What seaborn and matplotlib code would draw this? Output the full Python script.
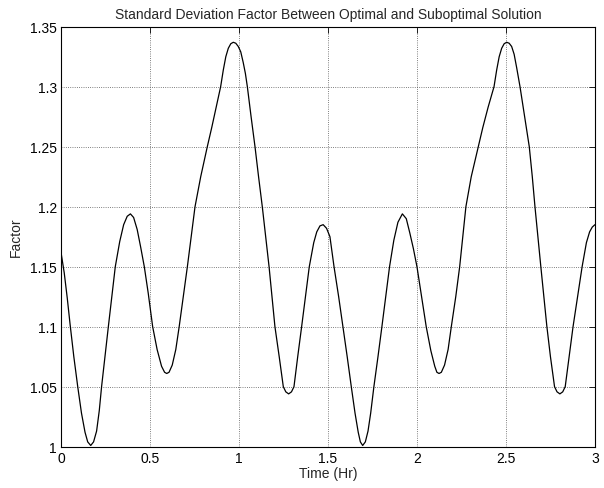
import matplotlib
matplotlib.use("Agg")
import matplotlib.pyplot as plt
import pandas as pd
import seaborn as sns

# values (time in hours, factor)
time_hr = [
    0.000, 0.018, 0.035, 0.051, 0.072, 0.094, 0.115, 0.135, 0.150, 0.167,
    0.183, 0.200, 0.215, 0.228, 0.266, 0.305, 0.330, 0.352, 0.372, 0.390,
    0.408, 0.428, 0.448, 0.468, 0.490, 0.515, 0.540, 0.565, 0.582, 0.594,
    0.607, 0.625, 0.645, 0.664, 0.690, 0.710, 0.753, 0.785, 0.822, 0.847,
    0.872, 0.897, 0.912, 0.926, 0.940, 0.954, 0.968, 0.982, 0.996, 1.010,
    1.024, 1.036, 1.047, 1.068, 1.090, 1.110, 1.131, 1.169, 1.202, 1.226,
    1.249, 1.263, 1.279, 1.295, 1.309, 1.330, 1.352, 1.395, 1.420, 1.437,
    1.455, 1.473, 1.492, 1.511, 1.534, 1.560, 1.584, 1.608, 1.631, 1.652,
    1.670, 1.682, 1.695, 1.710, 1.725, 1.740, 1.758, 1.781, 1.803, 1.846,
    1.870, 1.893, 1.918, 1.940, 1.960, 1.980, 2.000, 2.026, 2.052, 2.078,
    2.100, 2.112, 2.124, 2.137, 2.155, 2.175, 2.193, 2.218, 2.240, 2.275,
    2.305, 2.345, 2.370, 2.400, 2.433, 2.448, 2.462, 2.476, 2.490, 2.504,
    2.518, 2.532, 2.546, 2.560, 2.579, 2.605, 2.631, 2.648, 2.663, 2.696,
    2.730, 2.750, 2.773, 2.787, 2.803, 2.819, 2.833, 2.855, 2.877, 2.928,
    2.952, 2.970, 2.985, 3.000,
]
factor = [
    1.162, 1.145, 1.124, 1.102, 1.075, 1.050, 1.028, 1.012, 1.004, 1.001,
    1.004, 1.013, 1.030, 1.050, 1.100, 1.150, 1.171, 1.185, 1.192, 1.194,
    1.191, 1.181, 1.166, 1.150, 1.128, 1.100, 1.081, 1.067, 1.062, 1.061,
    1.062, 1.068, 1.081, 1.100, 1.128, 1.150, 1.200, 1.225, 1.250, 1.266,
    1.283, 1.300, 1.314, 1.325, 1.332, 1.3358, 1.337, 1.3362, 1.3335, 1.329,
    1.320, 1.311, 1.300, 1.275, 1.250, 1.225, 1.200, 1.150, 1.100, 1.075,
    1.050, 1.0457, 1.044, 1.0457, 1.050, 1.075, 1.100, 1.150, 1.170, 1.179,
    1.184, 1.185, 1.182, 1.175, 1.150, 1.125, 1.100, 1.075, 1.050, 1.028,
    1.012, 1.004, 1.001, 1.004, 1.013, 1.028, 1.050, 1.075, 1.100, 1.150,
    1.172, 1.187, 1.194, 1.190, 1.178, 1.165, 1.150, 1.125, 1.100, 1.080,
    1.067, 1.062, 1.061, 1.062, 1.068, 1.081, 1.100, 1.125, 1.150, 1.200,
    1.225, 1.250, 1.266, 1.283, 1.300, 1.314, 1.325, 1.332, 1.3358, 1.337,
    1.3362, 1.3335, 1.327, 1.316, 1.300, 1.275, 1.250, 1.225, 1.200, 1.150,
    1.100, 1.075, 1.050, 1.0457, 1.044, 1.0457, 1.050, 1.075, 1.100, 1.150,
    1.170, 1.179, 1.183, 1.185,
]

x_ticks = [0, 0.5, 1, 1.5, 2, 2.5, 3]
x_labels = ['0', '0.5', '1', '1.5', '2', '2.5', '3']
y_ticks = [1, 1.05, 1.1, 1.15, 1.2, 1.25, 1.3, 1.35]
y_labels = ['1', '1.05', '1.1', '1.15', '1.2', '1.25', '1.3', '1.35']

df = pd.DataFrame({'Time (Hr)': time_hr, 'Factor': factor})

sns.set_style('white')
plt.rcParams['font.family'] = ['Liberation Sans', 'DejaVu Sans']

fig = plt.figure(figsize=(6.04, 4.89), dpi=100)
ax = fig.add_axes([0.101, 0.0845, 0.884, 0.8589])

sns.lineplot(data=df, x='Time (Hr)', y='Factor', sort=False, estimator=None,
             color='black', linewidth=0.9, ax=ax)

ax.set_xlim(0, 3)
ax.set_ylim(1, 1.35)
ax.set_xticks(x_ticks)
ax.set_xticklabels(x_labels)
ax.set_yticks(y_ticks)
ax.set_yticklabels(y_labels)

ax.grid(True, linestyle=':', color='#555555', linewidth=0.6)
for s in ax.spines.values():
    s.set_color('black')
    s.set_linewidth(0.8)
ax.tick_params(direction='in', length=4, width=0.6, colors='black',
               top=True, right=True, labelsize=10, pad=3)

ax.set_xlabel('Time (Hr)', fontsize=10, labelpad=1)
ax.set_ylabel('Factor', fontsize=10, labelpad=5)
ax.set_title('Standard Deviation Factor Between Optimal and Suboptimal Solution',
             fontsize=10, pad=6)

fig.savefig('out.png', dpi=100, facecolor='white')
